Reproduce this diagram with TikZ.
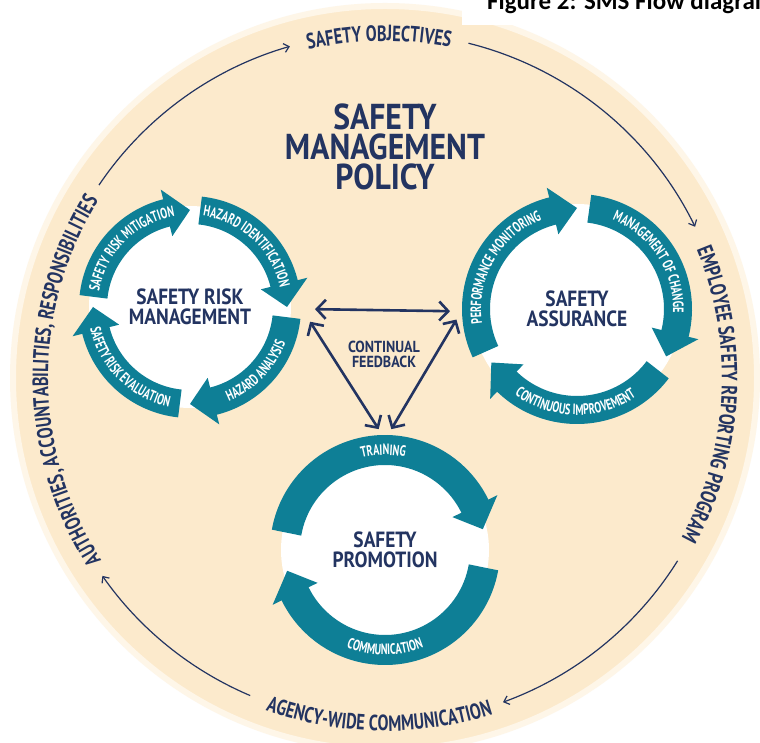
\documentclass[tikz,border=0pt]{standalone}
\usepackage{fontspec}
\setmainfont{PT Sans}
\newfontfamily\capfont{Carlito}
\newfontfamily\headfont[FakeStretch=0.88]{PT Sans}
\newfontfamily\condfont[FakeStretch=0.74]{PT Sans}
\newfontfamily\narrowfont[FakeStretch=0.68]{PT Sans}
\usetikzlibrary{decorations.text,arrows.meta}

\definecolor{navy}{RGB}{35,52,97}
\definecolor{ringteal}{RGB}{14,127,150}
\definecolor{sand}{RGB}{252,234,204}

\newcommand{\segfont}{\narrowfont\bfseries\fontsize{15}{15}\selectfont}
\newcommand{\outfont}{\condfont\bfseries\fontsize{22}{22}\selectfont}

% one arrow of a ring: hub node, from angle, to angle, mid radius, half width
\newcommand{\ringseg}[5]{%
  \draw[ringteal, line width={2*#5}] ([shift={(#2:#4)}]#1.center) arc[start angle=#2, end angle={#3+13}, radius=#4];
  \fill[ringteal] ([shift={({#3+14}:{#4+#5+10})}]#1.center) -- ([shift={(#3:#4)}]#1.center)
    -- ([shift={({#3+14}:{#4-#5-10})}]#1.center) -- cycle;}

\tikzset{
  hub/.style={circle, fill=white, text=navy, align=center,
    font=\headfont\bfseries\fontsize{22}{20}\selectfont},
  seg label/.style={decorate, decoration={text along path, text align=center,
    text color=white, text={|\segfont|#1}}},
  outer label/.style={decorate, decoration={text along path, text align=center,
    text color=navy, text={|\outfont|#1}}},
  loopline/.style={draw=navy, line width=1.2, -{Straight Barb[length=5pt,width=9pt]}},
  feedback/.style={draw=navy, line width=2.6,
    {Straight Barb[length=9pt,width=19pt]}-{Straight Barb[length=9pt,width=19pt]}}
}

\begin{document}
\begin{tikzpicture}[x=1pt,y=1pt]
  \useasboundingbox (0,0) rectangle (760,743);
  \fill[white] (0,0) rectangle (760,743);
  \coordinate (mid) at (385,365);
  \fill[sand] (mid) circle[radius=372];
  \draw[sand!45!white, line width=6] (mid) circle[radius=372];

  % caption
  \fill[white] (462,718) rectangle (760,743);
  \node[anchor=base west, inner sep=0, font=\capfont\bfseries\fontsize{25}{25}\selectfont]
    (fig) at (487,733) {Figure 2: SMS Flow diagram};

  % outer cycle
  \draw[loopline] ([shift={(146:345)}]mid) arc[start angle=146, end angle=106, radius=345];
  \draw[loopline] ([shift={(76:345)}]mid) arc[start angle=76, end angle=26, radius=345];
  \draw[loopline] ([shift={(-32:345)}]mid) arc[start angle=-32, end angle=-70, radius=345];
  \draw[loopline] ([shift={(-113:345)}]mid) arc[start angle=-113, end angle=-145, radius=345];
  \path[outer label={SAFETY OBJECTIVES}] ([shift={(131:337)}]mid) arc[start angle=131, end angle=51, radius=337];
  \path[outer label={EMPLOYEE SAFETY REPORTING PROGRAM}] ([shift={(37:337)}]mid) arc[start angle=37, end angle=-43, radius=337];
  \path[outer label={AGENCY-WIDE COMMUNICATION}] ([shift={(-131:353)}]mid) arc[start angle=-131, end angle=-51, radius=353];
  \path[outer label={AUTHORITIES, ACCOUNTABILITIES, RESPONSIBILITIES}] ([shift={(225.5:337)}]mid) arc[start angle=225.5, end angle=135.5, radius=337];

  \node[text=navy, align=center, font=\headfont\bfseries\fontsize{36}{30}\selectfont]
    (smp) at (385,596) {SAFETY\\MANAGEMENT\\POLICY};

  % safety risk management
  \node[hub, minimum size=202pt] (srm) at (190,436) {SAFETY RISK\\MANAGEMENT};
  \ringseg{srm}{174}{90}{97}{14}
  \ringseg{srm}{84}{0}{97}{14}
  \ringseg{srm}{-6}{-90}{97}{14}
  \ringseg{srm}{-96}{-180}{97}{14}
  \path[seg label={SAFETY RISK MITIGATION}] ([shift={(177:92)}]srm.center) arc[start angle=177, end angle=93, radius=92];
  \path[seg label={HAZARD IDENTIFICATION}] ([shift={(87:92)}]srm.center) arc[start angle=87, end angle=7, radius=92];
  \path[seg label={HAZARD ANALYSIS}] ([shift={(-86:102)}]srm.center) arc[start angle=-86, end angle=-2, radius=102];
  \path[seg label={SAFETY RISK EVALUATION}] ([shift={(-177:102)}]srm.center) arc[start angle=-177, end angle=-93, radius=102];

  % safety assurance
  \node[hub, minimum size=210pt] (sa) at (577,434) {SAFETY\\ASSURANCE};
  \ringseg{sa}{205}{90}{101}{14}
  \ringseg{sa}{83}{-28}{101}{14}
  \ringseg{sa}{-37}{-148}{101}{14}
  \path[seg label={PERFORMANCE MONITORING}] ([shift={(205:96)}]sa.center) arc[start angle=205, end angle=95, radius=96];
  \path[seg label={MANAGEMENT OF CHANGE}] ([shift={(88:96)}]sa.center) arc[start angle=88, end angle=-22, radius=96];
  \path[seg label={CONTINUOUS IMPROVEMENT}] ([shift={(-146:106)}]sa.center) arc[start angle=-146, end angle=-36, radius=106];

  % safety promotion
  \node[hub, minimum size=208pt] (sp) at (385,193) {SAFETY\\PROMOTION};
  \ringseg{sp}{170}{12}{100}{15}
  \ringseg{sp}{-10}{-168}{100}{15}
  \path[seg label={TRAINING}] ([shift={(140:95)}]sp.center) arc[start angle=140, end angle=42, radius=95];
  \path[seg label={COMMUNICATION}] ([shift={(-140:105)}]sp.center) arc[start angle=-140, end angle=-40, radius=105];

  % feedback between the three
  \node[text=navy, align=center, font=\headfont\bfseries\fontsize{16}{15}\selectfont]
    (cf) at (384,389) {CONTINUAL\\FEEDBACK};
  \draw[feedback] ([shift={(-1:125)}]srm.center) -- ([shift={(181:127)}]sa.center);
  \draw[feedback] ([shift={(-7:121)}]srm.center) -- ([shift={(93:121)}]sp.center);
  \draw[feedback] ([shift={(185:121)}]sa.center) -- ([shift={(87:121)}]sp.center);
\end{tikzpicture}
\end{document}
